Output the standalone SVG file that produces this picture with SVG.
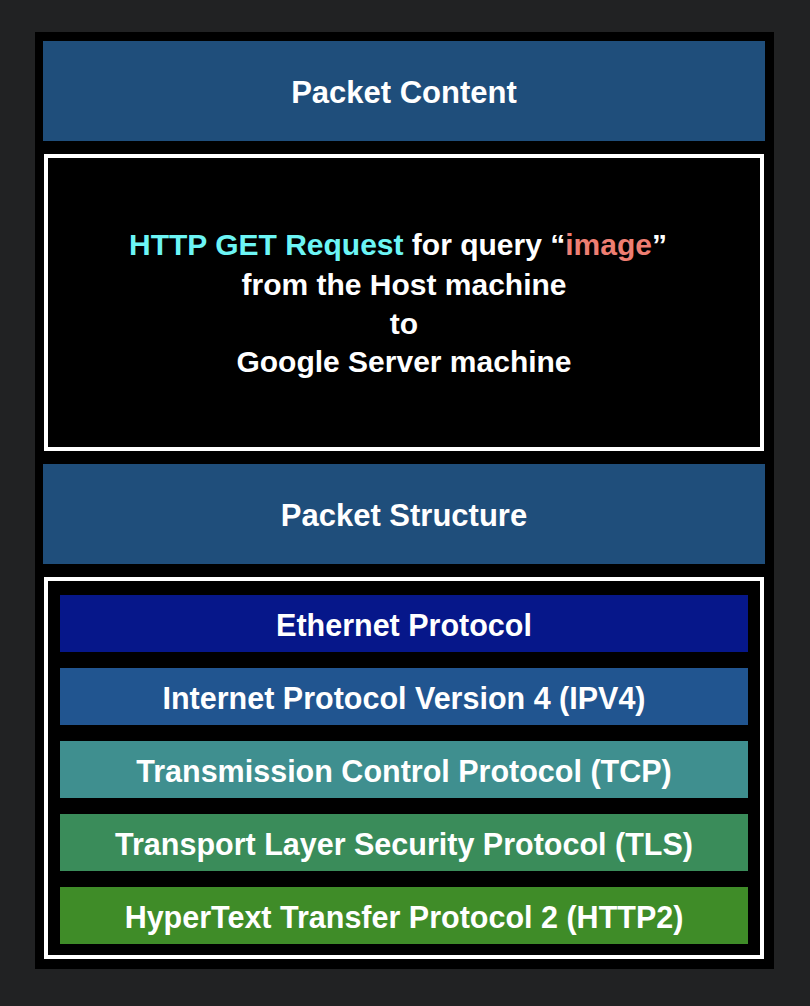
<svg xmlns="http://www.w3.org/2000/svg" width="810" height="1006" viewBox="0 0 810 1006">
<style>
text{font-family:"Liberation Sans",Arial,sans-serif;font-weight:bold;fill:#ffffff;text-anchor:middle}
.h{font-size:31px}
.t{font-size:30.5px}
.b{font-size:30px}
.frame{fill:none;stroke:#ffffff;stroke-width:4}
</style>
<rect x="0" y="0" width="810" height="1006" fill="#212223"/>
<rect x="35" y="32" width="739" height="937" fill="#000000"/>
<g id="packet-content">
<rect x="43" y="41" width="722" height="100" fill="#1f4e7b"/>
<text class="h" x="404" y="103">Packet Content</text>
</g>
<g id="content-box">
<rect class="frame" x="46" y="156" width="716" height="293" fill="#000000"/>
<text class="b" x="398" y="255"><tspan fill="#6cf5f5">HTTP GET Request</tspan> for query “<tspan fill="#ee7e72">image</tspan>”</text>
<text class="b" x="404" y="295">from the Host machine</text>
<text class="b" x="404" y="334">to</text>
<text class="b" x="404" y="372">Google Server machine</text>
</g>
<g id="packet-structure">
<rect x="43" y="464" width="722" height="100" fill="#1f4e7b"/>
<text class="h" x="404" y="526">Packet Structure</text>
</g>
<g id="structure-box">
<rect class="frame" x="46" y="579" width="716" height="378" fill="#000000"/>
</g>
<g id="ethernet">
<rect x="60" y="595" width="688" height="57" fill="#06178a"/>
<text class="t" x="404" y="636">Ethernet Protocol</text>
</g>
<g id="ipv4">
<rect x="60" y="668" width="688" height="57" fill="#215590"/>
<text class="t" x="404" y="709">Internet Protocol Version 4 (IPV4)</text>
</g>
<g id="tcp">
<rect x="60" y="741" width="688" height="57" fill="#3f8f8f"/>
<text class="t" x="404" y="782">Transmission Control Protocol (TCP)</text>
</g>
<g id="tls">
<rect x="60" y="814" width="688" height="57" fill="#3a8c5a"/>
<text class="t" x="404" y="855">Transport Layer Security Protocol (TLS)</text>
</g>
<g id="http2">
<rect x="60" y="887" width="688" height="57" fill="#3f8c28"/>
<text class="t" x="404" y="928">HyperText Transfer Protocol 2 (HTTP2)</text>
</g>
<g id="connectors"></g>
</svg>
